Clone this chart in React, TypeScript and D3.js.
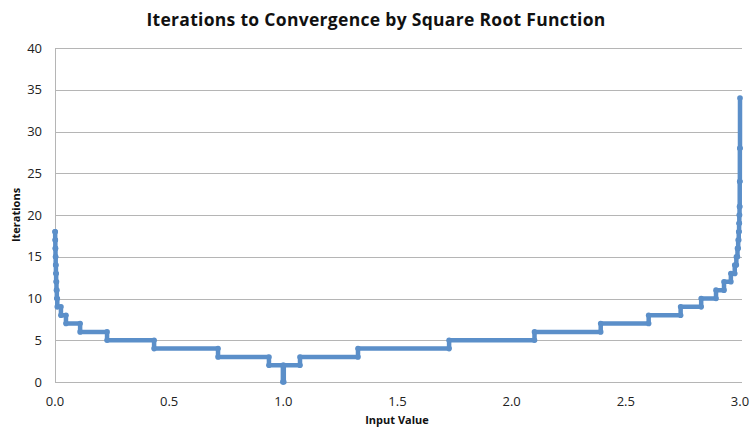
import * as d3 from 'd3'

const WIDTH = 752
const HEIGHT = 427
const MARGIN = { top: 48, right: 10, bottom: 45, left: 55 }

const TITLE = 'Iterations to Convergence by Square Root Function'
const X_LABEL = 'Input Value'
const Y_LABEL = 'Iterations'

// start of each step (input value) and the iteration count held from there
const stepStarts = [
  0, 0.0008, 0.0015, 0.0022, 0.003, 0.004, 0.005, 0.0065, 0.008, 0.01,
  0.026, 0.048, 0.11, 0.228, 0.434, 0.714, 0.937, 0.998, 1.002, 1.073,
  1.327, 1.726, 2.1, 2.39, 2.6, 2.74, 2.83, 2.895, 2.93, 2.96,
  2.977, 2.984, 2.989, 2.992, 2.9945, 2.996, 2.997, 2.998, 2.9988, 2.9994, 3.0
]
const iterations = [
  18, 17, 16, 15, 14, 13, 12, 11, 10, 9,
  8, 7, 6, 5, 4, 3, 2, 0, 2, 3,
  4, 5, 6, 7, 8, 9, 10, 11, 12, 13,
  14, 15, 16, 17, 18, 19, 20, 21, 24, 28, 34
]

const xTicks = [0, 0.5, 1, 1.5, 2, 2.5, 3]
const yTicks = [0, 5, 10, 15, 20, 25, 30, 35, 40]

const LINE_COLOR = '#5B8FC9'
const GRID_COLOR = '#B5B5B5'
const FONT = '"Open Sans", "DejaVu Sans", sans-serif'

export default function App() {
  const innerWidth = WIDTH - MARGIN.left - MARGIN.right
  const innerHeight = HEIGHT - MARGIN.top - MARGIN.bottom

  const xScale = d3.scaleLinear().domain([0, 3]).range([0, 685])
  const yScale = d3.scaleLinear().domain([0, 40]).range([innerHeight, 0])

  const points: [number, number][] = stepStarts.map((x, i) => [x, iterations[i]])

  const line = d3.line<[number, number]>()
    .x(d => xScale(d[0]))
    .y(d => yScale(d[1]))
    .curve(d3.curveStepAfter)

  // corner points of the steps, where Excel's markers show
  const corners: [number, number][] = []
  points.forEach((p, i) => {
    if (i > 0) corners.push([p[0], points[i - 1][1]])
    corners.push(p)
  })

  return (
    <div style={{ position: 'absolute', left: 0, top: 0 }}>
      <svg width={WIDTH} height={HEIGHT} style={{ display: 'block', background: '#fff' }}>
        <text
          x={WIDTH / 2}
          y={26}
          textAnchor="middle"
          fontFamily={FONT}
          fontWeight="bold"
          fontSize={17.5}
          letterSpacing={0.3}
          fill="#111"
        >
          {TITLE}
        </text>

        <g transform={`translate(${MARGIN.left}, ${MARGIN.top})`}>
          {/* Grid lines */}
          {yTicks.map(t => (
            <line
              key={`g-${t}`}
              x1={0}
              x2={innerWidth}
              y1={Math.round(yScale(t)) + 0.5}
              y2={Math.round(yScale(t)) + 0.5}
              stroke={GRID_COLOR}
              strokeWidth={1}
            />
          ))}
          <line x1={0.5} x2={0.5} y1={0} y2={innerHeight} stroke={GRID_COLOR} />

          {/* Y labels */}
          {yTicks.map(t => (
            <text
              key={`y-${t}`}
              x={-13}
              y={yScale(t)}
              dy="0.35em"
              textAnchor="end"
              fontFamily={FONT}
              fontSize={13}
              fill="#222"
            >
              {t}
            </text>
          ))}

          {/* X labels */}
          {xTicks.map(t => (
            <text
              key={`x-${t}`}
              x={xScale(t)}
              y={innerHeight + 24}
              textAnchor="middle"
              fontFamily={FONT}
              fontSize={13}
              fill="#222"
            >
              {t.toFixed(1)}
            </text>
          ))}

          {/* Series */}
          <path
            d={line(points) ?? ''}
            fill="none"
            stroke={LINE_COLOR}
            strokeWidth={4.5}
            strokeLinejoin="round"
          />
          {corners.map((c, i) => (
            <circle key={i} cx={xScale(c[0])} cy={yScale(c[1])} r={2.8} fill={LINE_COLOR} />
          ))}
        </g>

        <text
          x={MARGIN.left + 342}
          y={424}
          textAnchor="middle"
          fontFamily={FONT}
          fontWeight="bold"
          fontSize={11}
          fill="#111"
        >
          {X_LABEL}
        </text>
        <text
          transform={`translate(20, ${MARGIN.top + innerHeight / 2}) rotate(-90)`}
          textAnchor="middle"
          fontFamily={FONT}
          fontWeight="bold"
          fontSize={11}
          fill="#111"
        >
          {Y_LABEL}
        </text>
      </svg>
    </div>
  )
}
